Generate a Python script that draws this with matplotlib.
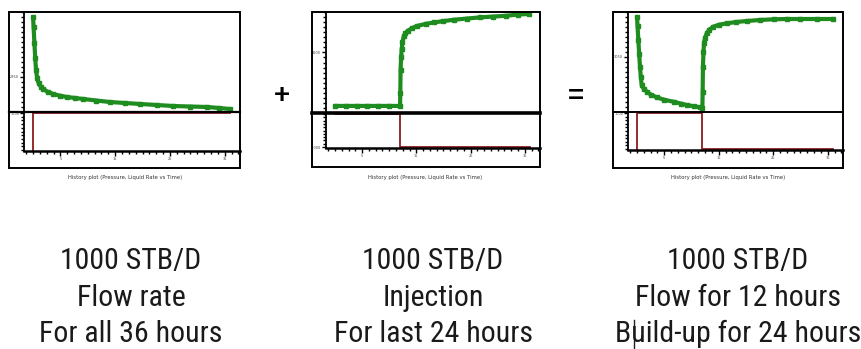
import matplotlib
matplotlib.use("Agg")
import matplotlib.pyplot as plt
from matplotlib.patches import Rectangle
from matplotlib.lines import Line2D
from matplotlib.ticker import MultipleLocator
from matplotlib import font_manager as fm

# ---------------- data ----------------
# Panel 1: drawdown at 1000 STB/D for 36 h
p1_time = [0.0, 0.1, 0.25, 0.4, 0.55, 0.75, 1.0, 1.4, 1.9, 2.7, 3.7, 5.0, 6.2, 7.7, 9.2, 11.5, 14.0, 16.8, 19.6, 22.6, 25.6, 28.7, 31.8, 34.0, 36.0]
p1_press = [3450, 3350, 3190, 3040, 2920, 2840, 2790, 2755, 2730, 2700, 2680, 2662, 2650, 2640, 2630, 2615, 2600, 2590, 2580, 2570, 2560, 2555, 2550, 2540, 2530]
p1_rate_time = [0, 0, 12, 36]
p1_rate = [0, 1000, 1000, 1000]

# Panel 2: injection of 1000 STB/D for the last 24 h
p2_time = [0.0, 2.0, 4.0, 6.0, 8.0, 10.0, 12.0, 12.05, 12.1, 12.2, 12.3, 12.45, 12.7, 13.0, 13.4, 14.2, 15.2, 16.7, 18.3, 20.0, 21.9, 24.3, 26.8, 29.2, 31.6, 33.8, 35.7]
p2_press = [2570, 2570, 2570, 2570, 2570, 2570, 2570, 2700, 2930, 3050, 3130, 3200, 3263, 3290, 3313, 3340, 3363, 3382, 3397, 3410, 3423, 3435, 3447, 3455, 3463, 3475, 3480]
p2_rate_time = [0, 0, 12, 36]
p2_rate = [0, 0, -1000, -1000]

# Panel 3: flow 12 h then build-up 24 h
p3_time = [0.0, 0.1, 0.25, 0.4, 0.55, 0.7, 0.86, 1.2, 1.8, 2.6, 3.6, 5.0, 6.7, 8.0, 9.1, 10.5, 11.6, 12.0, 12.05, 12.1, 12.2, 12.3, 12.5, 12.8, 13.3, 14.0, 15.0, 16.5, 18.2, 20.2, 22.5, 25.1, 27.5, 30.0, 33.0, 36.0]
p3_press = [3450, 3360, 3220, 3080, 2953, 2850, 2770, 2735, 2703, 2672, 2647, 2622, 2603, 2585, 2570, 2557, 2547, 2545, 2700, 2953, 3100, 3187, 3245, 3287, 3325, 3353, 3372, 3387, 3400, 3410, 3420, 3427, 3430, 3430, 3430, 3430]
p3_rate_time = [0, 0, 12, 36]
p3_rate = [0, 1000, 0, 0]

x_ticks = [5, 15, 25, 35]
x_tick_labels = ["5", "15", "25", "35"]

p_ticks = [[2850], [3100], [3050]]
p_tick_labels = [["2850"], ["3100"], ["3050"]]
q_ticks = [[1000], [-1000], [1000]]
q_tick_labels = [["1000"], ["-1000"], ["1000"]]

caption = "History plot (Pressure, Liquid Rate vs Time)"
texts = [
    ["1000 STB/D", "Flow rate", "For all 36 hours"],
    ["1000 STB/D", "Injection", "For last 24 hours"],
    ["1000 STB/D", "Flow for 12 hours", "Build-up for 24 hours"],
]
operators = ["+", "="]

# ---------------- font choice for the condensed captions ----------------
names = {f.name for f in fm.fontManager.ttflist}
cond_family = None
for cand in ["Liberation Sans Narrow", "Arial Narrow", "Roboto Condensed", "DejaVu Sans Condensed",
             "Open Sans Condensed", "Noto Sans Display"]:
    if cand in names:
        cond_family = cand
        break
cond_stretch = "normal"
if cond_family is None:
    # look for a condensed face of DejaVu Sans / Noto Sans
    for f in fm.fontManager.ttflist:
        if f.name in ("DejaVu Sans", "Noto Sans", "Open Sans") and str(f.stretch) in ("condensed", "semi-condensed", "575", "500", "semi-expanded") and f.style == "normal" and f.weight in (400, "normal", "regular"):
            cond_family = f.name
            cond_stretch = f.stretch
            break

# ---------------- layout ----------------
W, H = 861, 349
fig = plt.figure(figsize=(W / 100, H / 100), dpi=100)
fig.patch.set_facecolor("white")


def fx(px):
    return px / W


def fy(py):
    return 1 - py / H


# (outer_left, outer_right, outer_top, outer_bottom, axes_left, divider, axes_bottom, divider_lw, caption_x)
panels = [
    (9, 240, 12, 168, 24, 112, 151, 1.6, 125),
    (312, 540, 12, 167, 326, 113, 148, 2.6, 425),
    (613, 843, 12, 168, 628, 112, 150, 1.4, 728),
]

series = [
    (p1_time, p1_press, p1_rate_time, p1_rate, (-30, 1030)),
    (p2_time, p2_press, p2_rate_time, p2_rate, (-1030, 30)),
    (p3_time, p3_press, p3_rate_time, p3_rate, (-30, 1030)),
]

GREEN = "#1e8c1e"
RED = "#8b1c1c"
XLIM = (-1.65, 37.8)

for i, (ol, orr, ot, ob, al, dv, ab, dlw, cx) in enumerate(panels):
    t, p, rt, q, qlim = series[i]
    axp = fig.add_axes([fx(al), fy(dv), fx(orr) - fx(al), fy(ot) - fy(dv)])
    axp.plot(t, p, color=GREEN, lw=3.0, marker="s", ms=3.2, mec=GREEN, solid_capstyle="butt")
    axp.set_xlim(*XLIM)
    axp.set_ylim(2500, 3500)
    for s in ["top", "right", "bottom"]:
        axp.spines[s].set_visible(False)
    axp.spines["left"].set_linewidth(1.3)
    axp.set_xticks([])
    axp.set_yticks(p_ticks[i])
    axp.set_yticklabels(p_tick_labels[i], fontsize=2.5, color="#444444")
    axp.yaxis.set_minor_locator(MultipleLocator(50))
    axp.tick_params(axis="y", which="major", length=3, width=1.0, pad=0.5)
    axp.tick_params(axis="y", which="minor", length=2, width=1.0)
    axp.patch.set_alpha(0)

    axq = fig.add_axes([fx(al), fy(ab), fx(orr) - fx(al), fy(dv) - fy(ab)])
    axq.plot(rt, q, color=RED, lw=1.3, drawstyle="steps-post", clip_on=False)
    axq.set_xlim(*XLIM)
    axq.set_ylim(*qlim)
    for s in ["top", "right"]:
        axq.spines[s].set_visible(False)
    axq.spines["left"].set_linewidth(1.3)
    axq.spines["bottom"].set_linewidth(1.8)
    axq.set_yticks(q_ticks[i])
    axq.set_yticklabels(q_tick_labels[i], fontsize=2.5, color="#444444")
    axq.yaxis.set_minor_locator(MultipleLocator(100))
    axq.tick_params(axis="y", which="major", length=3, width=1.0, pad=0.5)
    axq.tick_params(axis="y", which="minor", length=2, width=1.0)
    axq.set_xticks(x_ticks)
    axq.set_xticklabels(x_tick_labels, fontsize=2.5, color="#444444")
    axq.xaxis.set_minor_locator(MultipleLocator(1.25))
    axq.tick_params(axis="x", which="major", length=3.5, width=1.0, pad=1)
    axq.tick_params(axis="x", which="minor", length=2, width=1.0)
    axq.patch.set_alpha(0)

    fig.add_artist(Rectangle((fx(ol), fy(ob)), fx(orr) - fx(ol), fy(ot) - fy(ob),
                             transform=fig.transFigure, fill=False, ec="black", lw=1.4))
    fig.add_artist(Line2D([fx(ol), fx(orr)], [fy(dv), fy(dv)], transform=fig.transFigure,
                          color="black", lw=dlw))
    fig.text(fx(cx), fy(178), caption, fontsize=3.8, color="#333333", ha="center", va="center")

fig.text(fx(282), fy(96), operators[0], fontsize=20, fontweight="bold", ha="center", va="center",
         family=["Liberation Sans", "DejaVu Sans"])
fig.text(fx(576), fy(97), operators[1], fontsize=20, fontweight="bold", ha="center", va="center",
         family=["Liberation Sans", "DejaVu Sans"])

# descriptions
text_cx = [131, 433, 738]
baselines = [269, 306, 342]
if cond_family is not None:
    fam = [cond_family, "DejaVu Sans"]
    fsize = 21.5
else:
    fam = ["Liberation Sans", "DejaVu Sans"]
    fsize = 18.5
for cxp, lines in zip(text_cx, texts):
    for yb, s in zip(baselines, lines):
        fig.text(fx(cxp), fy(yb), s, fontsize=fsize, color="#1a1a1a", ha="center", va="baseline",
                 family=fam, fontstretch=cond_stretch)

fig.add_artist(Line2D([fx(634), fx(634)], [fy(320), fy(349)], transform=fig.transFigure,
                      color="#222222", lw=1.0))

fig.savefig("out.png", dpi=100, facecolor="white")
